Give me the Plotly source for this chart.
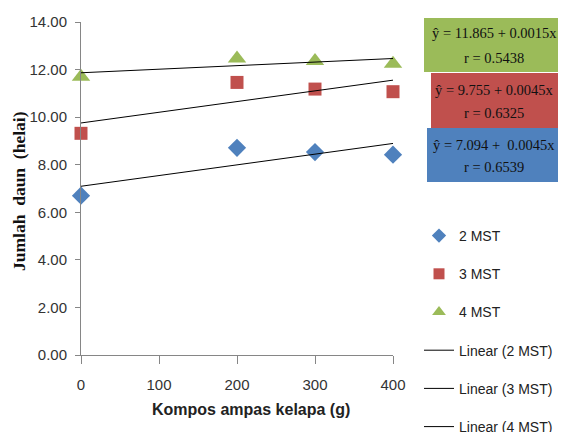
import plotly.graph_objects as go

# ---- data ----
x_vals = [0, 200, 300, 400]
mst2 = [6.70, 8.71, 8.53, 8.42]
mst3 = [9.32, 11.46, 11.18, 11.07]
mst4 = [11.70, 12.47, 12.36, 12.25]
series_names = ["2 MST", "3 MST", "4 MST"]
intercepts = [7.094, 9.755, 11.865]
slopes = [0.0045, 0.0045, 0.0015]
r_values = ["0.6539", "0.6325", "0.5438"]
eq_labels = ["ŷ = 7.094 +  0.0045x", "ŷ = 9.755 + 0.0045x", "ŷ = 11.865 + 0.0015x"]
x_ticks = [0, 100, 200, 300, 400]
y_ticks = [0, 2, 4, 6, 8, 10, 12, 14]
trend_x = [0, 400]

colors = ["#4F81BD", "#C0504D", "#9BBB59"]
symbols = ["diamond", "square", "triangle-up"]
sizes = [14, 13, 16]
legend_sizes = [11, 11, 12]

W, H = 566, 432
OFF = 8  # page body margin offset of the rendered figure
# plot area in target-screen pixels
SL, SR, ST, SB = 81, 393, 22, 355
L, R, T, B = SL - OFF, SR - OFF, ST - OFF, SB - OFF


def px(xs):
    """screen x (target pixels) -> paper x"""
    return (xs - OFF - L) / (R - L)


def py(ys):
    """screen y (target pixels) -> paper y"""
    return (B - (ys - OFF)) / (B - T)


fig = go.Figure()
all_y = [mst2, mst3, mst4]
for i in range(3):
    fig.add_trace(go.Scatter(
        x=x_vals, y=all_y[i], mode="markers", name=series_names[i],
        showlegend=False, cliponaxis=False,
        marker=dict(symbol=symbols[i], size=sizes[i], color=colors[i], line=dict(width=0)),
    ))
# legend swatches (no data drawn)
for i in range(3):
    fig.add_trace(go.Scatter(
        x=[None], y=[None], mode="markers", name=series_names[i],
        legendgroup="g%d" % i,
        marker=dict(symbol=symbols[i], size=legend_sizes[i], color=colors[i], line=dict(width=0)),
    ))
for i in range(3):
    ty = [intercepts[i] + slopes[i] * xv for xv in trend_x]
    fig.add_trace(go.Scatter(
        x=trend_x, y=ty, mode="lines", name="Linear (%s)" % series_names[i],
        legendgroup="l%d" % i, cliponaxis=False,
        line=dict(color="#000000", width=1),
    ))

tick_font = dict(family="Liberation Sans Narrow, Arial Narrow, sans-serif", size=15, color="#333333")

fig.update_layout(
    width=W, height=H,
    margin=dict(l=L, r=W - R, t=T, b=H - B, pad=0, autoexpand=False),
    paper_bgcolor="white", plot_bgcolor="white",
    showlegend=True,
    legend=dict(
        x=px(419), y=py(220), xanchor="left", yanchor="top",
        font=dict(family="Liberation Sans Narrow, Arial Narrow, sans-serif", size=14, color="#222222"),
        tracegroupgap=17, itemsizing="trace", bgcolor="rgba(0,0,0,0)",
    ),
    xaxis=dict(
        range=[0, 400], tickvals=x_ticks, showgrid=False, zeroline=False,
        showline=True, linecolor="#868686", linewidth=1,
        ticks="outside", ticklen=8, tickcolor="#868686",
        tickfont=tick_font, ticklabelstandoff=8,
    ),
    yaxis=dict(
        range=[0, 14], tickvals=y_ticks, tickformat=".2f", showgrid=False, zeroline=False,
        showline=True, linecolor="#868686", linewidth=1,
        ticks="outside", ticklen=5, tickcolor="#868686",
        tickfont=tick_font, ticklabelstandoff=5,
    ),
)

# axis titles
fig.add_annotation(
    xref="paper", yref="paper", x=px(251), y=py(409), xanchor="center", yanchor="middle",
    showarrow=False, text="<b>Kompos ampas kelapa (g)</b>",
    font=dict(family="Liberation Sans Narrow, Arial Narrow, sans-serif", size=16, color="#222222"),
)
fig.add_annotation(
    xref="paper", yref="paper", x=px(19), y=py(191), xanchor="center", yanchor="middle",
    showarrow=False, textangle=-90,
    text="<b>Jumlah  daun  (helai)</b>",
    font=dict(family="Liberation Serif, Times New Roman, serif", size=17.5, color="#111111"),
)

# equation boxes (blue, red, green)
boxes = [(427, 570, 128, 182), (431, 562, 73, 128), (424, 570, 18, 72)]
line1_y = [145, 90, 33]
line2_y = [167, 113, 58]
eq_font = dict(family="Liberation Serif, Times New Roman, serif", size=14.5, color="#111111")
for i in range(3):
    x0, x1, y0, y1 = boxes[i]
    fig.add_shape(type="rect", xref="paper", yref="paper",
                  x0=px(x0), x1=px(x1), y0=py(y1), y1=py(y0),
                  fillcolor=colors[i], line=dict(width=0), layer="above")
    fig.add_annotation(xref="paper", yref="paper", x=px(494), y=py(line1_y[i]),
                       xanchor="center", yanchor="middle",
                       showarrow=False, text=eq_labels[i], font=eq_font)
    fig.add_annotation(xref="paper", yref="paper", x=px(494), y=py(line2_y[i]),
                       xanchor="center", yanchor="middle",
                       showarrow=False, text="r = " + r_values[i], font=eq_font)

fig.write_html("out.html")
